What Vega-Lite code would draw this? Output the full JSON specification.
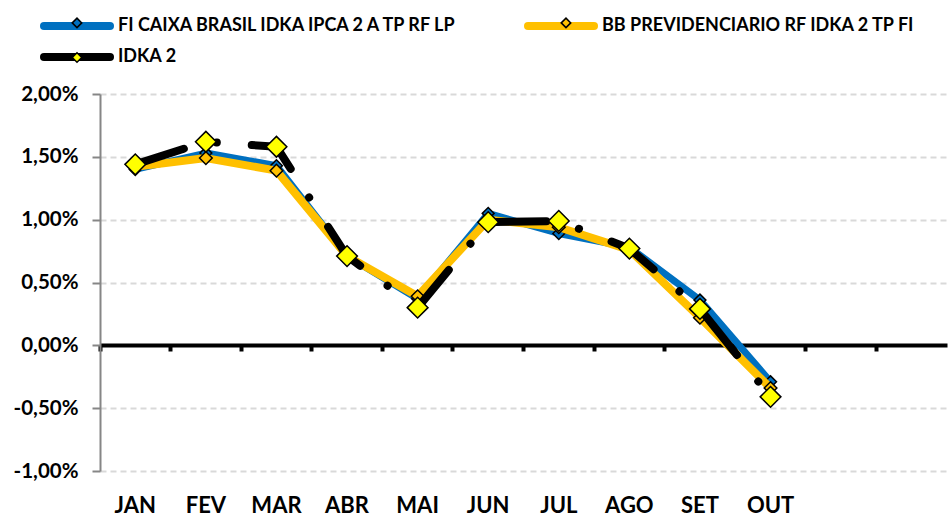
{
  "$schema": "https://vega.github.io/schema/vega-lite/v6.json",
  "width": 847,
  "height": 377,
  "autosize": {"type": "none"},
  "padding": {"left": 100, "top": 94, "right": 2, "bottom": 45},
  "background": "white",
  "config": {
    "view": {"stroke": null},
    "font": "Lato"
  },
  "data": {
    "values": [
      {"mes": "JAN", "serie": "FI CAIXA BRASIL IDKA IPCA 2 A TP RF LP", "valor": 0.0140},
      {"mes": "FEV", "serie": "FI CAIXA BRASIL IDKA IPCA 2 A TP RF LP", "valor": 0.0153},
      {"mes": "MAR", "serie": "FI CAIXA BRASIL IDKA IPCA 2 A TP RF LP", "valor": 0.0143},
      {"mes": "ABR", "serie": "FI CAIXA BRASIL IDKA IPCA 2 A TP RF LP", "valor": 0.0071},
      {"mes": "MAI", "serie": "FI CAIXA BRASIL IDKA IPCA 2 A TP RF LP", "valor": 0.0037},
      {"mes": "JUN", "serie": "FI CAIXA BRASIL IDKA IPCA 2 A TP RF LP", "valor": 0.0105},
      {"mes": "JUL", "serie": "FI CAIXA BRASIL IDKA IPCA 2 A TP RF LP", "valor": 0.0089},
      {"mes": "AGO", "serie": "FI CAIXA BRASIL IDKA IPCA 2 A TP RF LP", "valor": 0.0078},
      {"mes": "SET", "serie": "FI CAIXA BRASIL IDKA IPCA 2 A TP RF LP", "valor": 0.0036},
      {"mes": "OUT", "serie": "FI CAIXA BRASIL IDKA IPCA 2 A TP RF LP", "valor": -0.0029},
      {"mes": "JAN", "serie": "BB PREVIDENCIARIO RF IDKA 2 TP FI", "valor": 0.0142},
      {"mes": "FEV", "serie": "BB PREVIDENCIARIO RF IDKA 2 TP FI", "valor": 0.0149},
      {"mes": "MAR", "serie": "BB PREVIDENCIARIO RF IDKA 2 TP FI", "valor": 0.0139},
      {"mes": "ABR", "serie": "BB PREVIDENCIARIO RF IDKA 2 TP FI", "valor": 0.0071},
      {"mes": "MAI", "serie": "BB PREVIDENCIARIO RF IDKA 2 TP FI", "valor": 0.0039},
      {"mes": "JUN", "serie": "BB PREVIDENCIARIO RF IDKA 2 TP FI", "valor": 0.0100},
      {"mes": "JUL", "serie": "BB PREVIDENCIARIO RF IDKA 2 TP FI", "valor": 0.0094},
      {"mes": "AGO", "serie": "BB PREVIDENCIARIO RF IDKA 2 TP FI", "valor": 0.0076},
      {"mes": "SET", "serie": "BB PREVIDENCIARIO RF IDKA 2 TP FI", "valor": 0.0022},
      {"mes": "OUT", "serie": "BB PREVIDENCIARIO RF IDKA 2 TP FI", "valor": -0.0034},
      {"mes": "JAN", "serie": "IDKA 2", "valor": 0.0144},
      {"mes": "FEV", "serie": "IDKA 2", "valor": 0.0162},
      {"mes": "MAR", "serie": "IDKA 2", "valor": 0.0158},
      {"mes": "ABR", "serie": "IDKA 2", "valor": 0.0071},
      {"mes": "MAI", "serie": "IDKA 2", "valor": 0.0030},
      {"mes": "JUN", "serie": "IDKA 2", "valor": 0.0098},
      {"mes": "JUL", "serie": "IDKA 2", "valor": 0.0099},
      {"mes": "AGO", "serie": "IDKA 2", "valor": 0.0077},
      {"mes": "SET", "serie": "IDKA 2", "valor": 0.0029},
      {"mes": "OUT", "serie": "IDKA 2", "valor": -0.0041}
    ]
  },
  "resolve": {"axis": {"x": "independent"}},
  "layer": [
    {
      "transform": [{"filter": "datum.serie === 'FI CAIXA BRASIL IDKA IPCA 2 A TP RF LP'"}],
      "mark": {"type": "line", "strokeWidth": 7, "strokeCap": "round", "strokeJoin": "round"},
      "encoding": {
        "x": {
          "field": "mes", "type": "nominal",
          "scale": {"type": "band", "domain": ["JAN","FEV","MAR","ABR","MAI","JUN","JUL","AGO","SET","OUT","NOV","DEZ"], "paddingInner": 0, "paddingOuter": 0},
          "axis": {
            "title": null, "orient": "bottom", "domain": false, "ticks": false, "tickSize": 0,
            "grid": false, "labelAngle": 0, "labelPadding": 24,
            "labelFont": "Lato", "labelFontWeight": "bold", "labelFontSize": 22, "labelColor": "#000000",
            "labelExpr": "indexof(['NOV','DEZ'], datum.value) >= 0 ? '' : datum.value"
          }
        },
        "y": {
          "field": "valor", "type": "quantitative",
          "scale": {"domain": [-0.01, 0.02], "nice": false, "zero": false},
          "axis": {
            "title": null,
            "values": [-0.01, -0.005, 0, 0.005, 0.01, 0.015, 0.02],
            "labelExpr": "replace(replace(format(datum.value, '.2%'), '.', ','), '\u2212', '-')",
            "labelFont": "Lato", "labelFontWeight": "bold", "labelFontSize": 20.5, "labelColor": "#000000",
            "labelPadding": 14,
            "domainColor": "#868686", "domainWidth": 2,
            "tickColor": "#868686", "tickWidth": 2, "tickSize": 8,
            "grid": true, "gridColor": "#d9d9d9", "gridWidth": 2, "gridDash": [6, 4]
          }
        },
        "color": {
          "field": "serie", "type": "nominal",
          "scale": {
            "domain": ["FI CAIXA BRASIL IDKA IPCA 2 A TP RF LP", "BB PREVIDENCIARIO RF IDKA 2 TP FI", "IDKA 2"],
            "range": ["#0070C0", "#FFC000", "#000000"]
          },
          "legend": {
            "title": null, "orient": "none", "legendX": -60, "legendY": -83,
            "direction": "horizontal",
            "columns": 2, "columnPadding": 52, "rowPadding": -3,
            "symbolType": "M-1,0H5", "symbolSize": 484, "symbolStrokeWidth": 8,
            "labelFont": "Lato", "labelFontWeight": "bold", "labelFontSize": 18, "labelColor": "#000000",
            "labelLimit": 600, "labelOffset": 48,
            "encode": {"symbols": {"update": {"strokeCap": {"value": "round"}}}}
          }
        }
      }
    },
    {
      "transform": [{"filter": "datum.serie === 'FI CAIXA BRASIL IDKA IPCA 2 A TP RF LP'"}],
      "mark": {"type": "point", "shape": "diamond", "filled": true, "stroke": "#000000", "strokeWidth": 1.5, "size": 140, "opacity": 1},
      "encoding": {
        "x": {"field": "mes", "type": "nominal", "axis": null},
        "y": {"field": "valor", "type": "quantitative"},
        "fill": {
          "field": "serie", "type": "nominal",
          "sort": ["FI CAIXA BRASIL IDKA IPCA 2 A TP RF LP", "BB PREVIDENCIARIO RF IDKA 2 TP FI", "IDKA 2"],
          "scale": {"range": ["#0070C0", "#FFC000", "#FFFF00"]},
          "legend": {
            "title": null, "orient": "none", "legendX": -28.5, "legendY": -77,
            "direction": "horizontal",
            "columns": 2, "columnPadding": 472, "rowPadding": 18,
            "symbolType": "diamond", "symbolSize": 90, "symbolStrokeWidth": 1.5, "symbolStrokeColor": "#000000",
            "labelExpr": "''", "labelFontSize": 1, "labelOffset": 0
          }
        }
      }
    },
    {
      "transform": [{"filter": "datum.serie === 'BB PREVIDENCIARIO RF IDKA 2 TP FI'"}],
      "mark": {"type": "line", "strokeWidth": 8, "strokeCap": "round", "strokeJoin": "round"},
      "encoding": {
        "x": {
          "field": "mes", "type": "nominal",
          "axis": {
            "title": null, "orient": "bottom", "offset": -126, "labels": false,
            "domain": true, "domainColor": "#000000", "domainWidth": 4,
            "ticks": true, "tickColor": "#000000", "tickWidth": 4, "tickSize": 6, "bandPosition": 0,
            "grid": false
          }
        },
        "y": {"field": "valor", "type": "quantitative"},
        "color": {"field": "serie", "type": "nominal"}
      }
    },
    {
      "transform": [{"filter": "datum.serie === 'BB PREVIDENCIARIO RF IDKA 2 TP FI'"}],
      "mark": {"type": "point", "shape": "diamond", "filled": true, "stroke": "#000000", "strokeWidth": 1.5, "size": 160, "opacity": 1},
      "encoding": {
        "x": {"field": "mes", "type": "nominal", "axis": null},
        "y": {"field": "valor", "type": "quantitative"},
        "fill": {"field": "serie", "type": "nominal", "sort": ["FI CAIXA BRASIL IDKA IPCA 2 A TP RF LP", "BB PREVIDENCIARIO RF IDKA 2 TP FI", "IDKA 2"]}
      }
    },
    {
      "transform": [{"filter": "datum.serie === 'IDKA 2'"}],
      "mark": {"type": "line", "strokeWidth": 8, "strokeCap": "round", "strokeJoin": "round", "strokeDash": [51, 34, 0.1, 35]},
      "encoding": {
        "x": {"field": "mes", "type": "nominal", "axis": null},
        "y": {"field": "valor", "type": "quantitative"},
        "color": {"field": "serie", "type": "nominal"}
      }
    },
    {
      "transform": [{"filter": "datum.serie === 'IDKA 2'"}],
      "mark": {"type": "point", "shape": "diamond", "filled": true, "stroke": "#000000", "strokeWidth": 1.5, "size": 430, "opacity": 1},
      "encoding": {
        "x": {"field": "mes", "type": "nominal", "axis": null},
        "y": {"field": "valor", "type": "quantitative"},
        "fill": {"field": "serie", "type": "nominal", "sort": ["FI CAIXA BRASIL IDKA IPCA 2 A TP RF LP", "BB PREVIDENCIARIO RF IDKA 2 TP FI", "IDKA 2"]}
      }
    }
  ]
}
